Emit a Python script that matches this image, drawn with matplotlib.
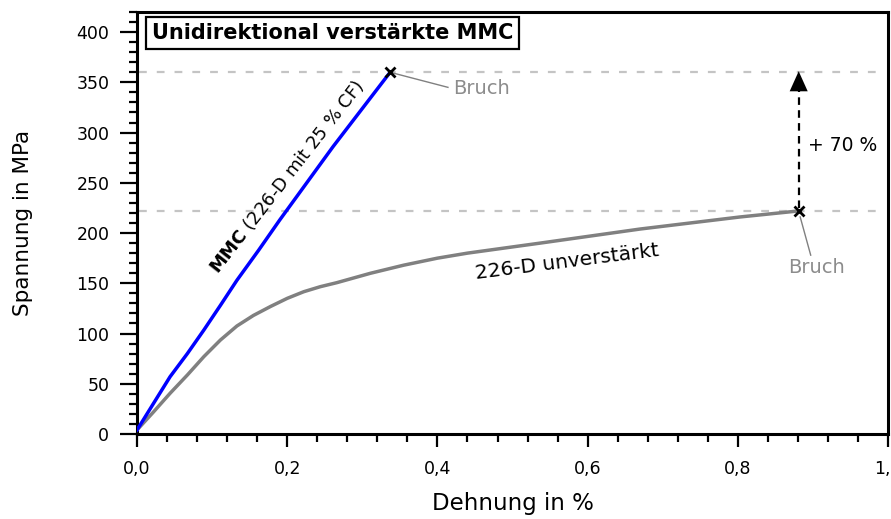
import matplotlib
matplotlib.use("Agg")
import matplotlib.pyplot as plt
from matplotlib.ticker import MultipleLocator, FuncFormatter

plt.rcParams['font.family'] = ['DejaVu Sans']
plt.rcParams['mathtext.fontset'] = 'dejavusans'

# Dehnung in %, Spannung in MPa
mmc_strain = [0.0, 0.022, 0.044, 0.067, 0.089, 0.111, 0.133, 0.162, 0.19, 0.261, 0.337]
mmc_stress = [4, 30.5, 57, 80, 103.5, 128, 153, 183, 213, 286, 360]

unv_strain = [0.0, 0.022, 0.044, 0.067, 0.089, 0.111, 0.133, 0.155, 0.178, 0.20,
              0.222, 0.244, 0.266, 0.311, 0.355, 0.40, 0.44, 0.537, 0.670, 0.803, 0.881]
unv_stress = [4, 22, 40.5, 58.7, 77, 93.5, 107.5, 118, 127, 135,
              141.6, 146.6, 150.6, 160, 168, 175, 180, 190, 204, 216, 222]

mmc_break = (0.337, 360)
unv_break = (0.881, 222)
increase_label = "+ 70 %"

fig = plt.figure(figsize=(8.91, 5.19), dpi=100)
ax = fig.add_axes([0.1538, 0.1638, 0.8429, 0.8131])

# dashed reference lines at the fracture stresses
for yy in (mmc_break[1], unv_break[1]):
    ax.plot([0.003, 0.987], [yy, yy], color='#c4c4c4', lw=1.6,
            dashes=(3.5, 4.5), zorder=1)

ax.plot(unv_strain, unv_stress, color='#808080', lw=2.5, zorder=3,
        solid_joinstyle='round')
ax.plot(mmc_strain, mmc_stress, color='#0000ff', lw=2.5, zorder=3,
        solid_joinstyle='round')

ax.plot(*mmc_break, 'x', color='k', ms=7, mew=2, zorder=5)
ax.plot(*unv_break, 'x', color='k', ms=7, mew=2, zorder=5)

# arrow between fracture stresses
ax.plot([unv_break[0], unv_break[0]], [unv_break[1] + 3, 342], color='k',
        lw=1.6, dashes=(3.4, 2.4), zorder=4)
ax.annotate('', xy=(unv_break[0], mmc_break[1] + 1), xytext=(unv_break[0], 340),
            arrowprops=dict(arrowstyle='-|>,head_length=1.0,head_width=0.45',
                            mutation_scale=14.4, color='k', lw=0.01,
                            shrinkA=0, shrinkB=0), zorder=4)
ax.text(0.893, 287, increase_label, fontsize=13.5, va='center', ha='left')

# Bruch labels
ax.plot([mmc_break[0], 0.414], [mmc_break[1], 345], color='#808080', lw=1)
ax.text(0.421, 344, 'Bruch', color='#8c8c8c', fontsize=14,
        va='center', ha='left')
ax.plot([0.883, 0.897], [216, 178], color='#808080', lw=1)
ax.text(0.905, 166, 'Bruch', color='#8c8c8c', fontsize=14,
        va='center', ha='center')

# curve labels
ax.text(0.199, 256, r'$\bf{MMC}$ (226-D mit 25 % CF)', fontsize=13,
        rotation=52, rotation_mode='anchor', ha='center', va='center')
ax.text(0.573, 171, '226-D unverstärkt', fontsize=14.5,
        rotation=7.2, rotation_mode='anchor', ha='center', va='center')

ax.text(0.02, 0.951, 'Unidirektional verstärkte MMC', transform=ax.transAxes,
        fontsize=15, fontweight='bold', va='center', ha='left',
        bbox=dict(boxstyle='square,pad=0.28', fc='white', ec='k', lw=1.6))

ax.set_xlim(0, 1.0)
ax.set_ylim(0, 420)
ax.xaxis.set_major_locator(MultipleLocator(0.2))
ax.xaxis.set_minor_locator(MultipleLocator(0.04))
ax.yaxis.set_major_locator(MultipleLocator(50))
ax.yaxis.set_minor_locator(MultipleLocator(10))
ax.xaxis.set_major_formatter(FuncFormatter(lambda v, p: f"{v:.1f}".replace('.', ',')))

for s in ax.spines.values():
    s.set_linewidth(2.2)

ax.tick_params(axis='x', which='major', direction='out', length=9, width=1.6,
               labelsize=12.5, pad=10)
ax.tick_params(axis='x', which='minor', direction='out', length=5.5, width=1.6)
ax.tick_params(axis='y', which='major', direction='out', length=12, width=1.6,
               labelsize=12.5, pad=8)
ax.tick_params(axis='y', which='minor', direction='out', length=5.5, width=1.6)

ax.set_xlabel('Dehnung in %', fontsize=16.5, labelpad=10)
ax.set_ylabel('Spannung in MPa', fontsize=15.5, labelpad=31)

fig.savefig('out.png', dpi=100)
